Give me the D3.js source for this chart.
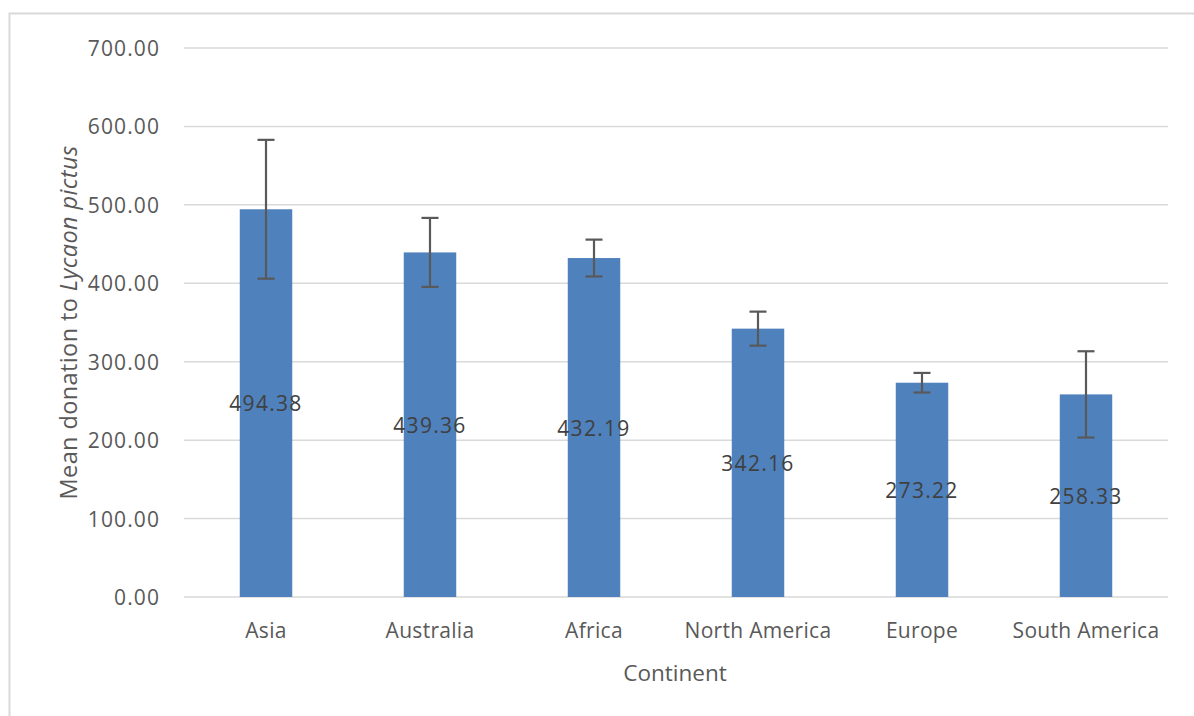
<!DOCTYPE html>
<html>
<head>
<meta charset="utf-8">
<script src="https://cdn.jsdelivr.net/npm/d3@7"></script>
<style>
  html, body { margin: 0; padding: 0; background: #fff; }
  svg { display: block; }
  text { font-family: "Open Sans", "Noto Sans", sans-serif; }
</style>
</head>
<body>
<script>
const categories = ["Asia", "Australia", "Africa", "North America", "Europe", "South America"];
const means = [494.38, 439.36, 432.19, 342.16, 273.22, 258.33];
const errors = [88.5, 44, 23.5, 21.7, 12.5, 55];
const yTicks = [0, 100, 200, 300, 400, 500, 600, 700];

const W = 1194, H = 716;
const margin = { left: 184, right: 26, top: 48, bottom: 119 };

const svg = d3.select("body").append("svg").attr("width", W).attr("height", H);

// outer frame
svg.append("path")
  .attr("d", `M9.5,${H} V13.5 H${W}`)
  .attr("fill", "none").attr("stroke", "#d9d9d9").attr("stroke-width", 2);

const x = d3.scaleBand().domain(categories)
  .range([margin.left, W - margin.right]).paddingInner(0.68).paddingOuter(0.34);
const y = d3.scaleLinear().domain([0, 700]).range([H - margin.bottom, margin.top]);

// gridlines
svg.append("g").selectAll("line").data(yTicks).join("line")
  .attr("x1", margin.left).attr("x2", W - margin.right)
  .attr("y1", d => y(d)).attr("y2", d => y(d))
  .attr("stroke", "#d9d9d9").attr("stroke-width", 1.5);

// y tick labels
svg.append("g").selectAll("text").data(yTicks).join("text")
  .attr("x", 160).attr("y", d => y(d))
  .attr("text-anchor", "end").attr("dominant-baseline", "central")
  .attr("fill", "#595959").attr("font-size", 21).attr("letter-spacing", 1.1)
  .text(d => d3.format(".2f")(d));

// bars
svg.append("g").selectAll("rect").data(categories).join("rect")
  .attr("x", d => x(d)).attr("width", x.bandwidth())
  .attr("y", (d, i) => y(means[i]))
  .attr("height", (d, i) => y(0) - y(means[i]))
  .attr("fill", "#4F81BD");

// error bars
const eg = svg.append("g").attr("stroke", "#595959").attr("stroke-width", 2.2);
categories.forEach((c, i) => {
  const cx = x(c) + x.bandwidth() / 2;
  const hi = y(means[i] + errors[i]), lo = y(means[i] - errors[i]);
  eg.append("line").attr("x1", cx).attr("x2", cx).attr("y1", hi).attr("y2", lo);
  eg.append("line").attr("x1", cx - 8.5).attr("x2", cx + 8.5).attr("y1", hi).attr("y2", hi);
  eg.append("line").attr("x1", cx - 8.5).attr("x2", cx + 8.5).attr("y1", lo).attr("y2", lo);
});

// data labels
svg.append("g").selectAll("text").data(categories).join("text")
  .attr("x", d => x(d) + x.bandwidth() / 2)
  .attr("y", (d, i) => (y(means[i]) + y(0)) / 2)
  .attr("text-anchor", "middle").attr("dominant-baseline", "central")
  .attr("fill", "#404040").attr("font-size", 21).attr("letter-spacing", 1.3)
  .text((d, i) => d3.format(".2f")(means[i]));

// category labels
svg.append("g").selectAll("text").data(categories).join("text")
  .attr("x", d => x(d) + x.bandwidth() / 2)
  .attr("y", 630)
  .attr("text-anchor", "middle").attr("dominant-baseline", "central")
  .attr("fill", "#595959").attr("font-size", 21).attr("letter-spacing", 0.3)
  .text(d => d);

// x axis title
svg.append("text")
  .attr("x", 675).attr("y", 672)
  .attr("text-anchor", "middle").attr("dominant-baseline", "central")
  .attr("fill", "#595959").attr("font-size", 22.5)
  .text("Continent");

// y axis title
const yt = svg.append("text")
  .attr("transform", `translate(68,${(145 + 500) / 2}) rotate(-90)`)
  .attr("text-anchor", "middle").attr("dominant-baseline", "central")
  .attr("fill", "#595959").attr("font-size", 23.5).attr("letter-spacing", 0.4);
yt.append("tspan").text("Mean donation to ");
yt.append("tspan").attr("font-style", "italic").text("Lycaon pictus");
</script>
</body>
</html>
